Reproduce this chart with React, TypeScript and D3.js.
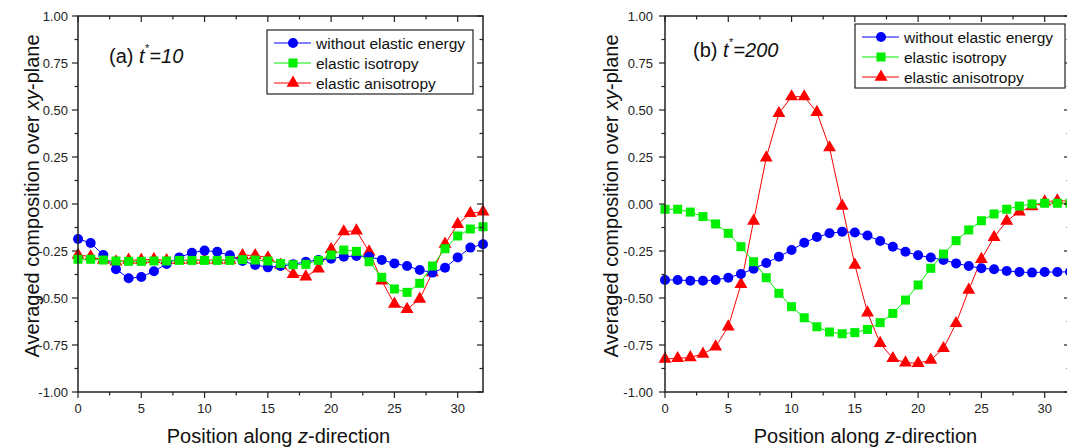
import React from "react";
import * as d3 from "d3";

const positions = d3.range(0, 33);

const aWithout = [-0.186, -0.207, -0.271, -0.347, -0.395, -0.388, -0.358, -0.319, -0.284, -0.259, -0.248, -0.254, -0.273, -0.303, -0.324, -0.337, -0.33, -0.321, -0.307, -0.298, -0.291, -0.28, -0.277, -0.28, -0.298, -0.316, -0.33, -0.351, -0.365, -0.339, -0.284, -0.232, -0.214];
const aIso = [-0.294, -0.294, -0.298, -0.303, -0.305, -0.305, -0.303, -0.303, -0.3, -0.3, -0.3, -0.3, -0.3, -0.296, -0.298, -0.303, -0.316, -0.323, -0.321, -0.3, -0.271, -0.245, -0.252, -0.307, -0.39, -0.452, -0.47, -0.422, -0.33, -0.238, -0.17, -0.133, -0.121];
const aAniso = [-0.271, -0.28, -0.298, -0.307, -0.298, -0.298, -0.294, -0.3, -0.3, -0.298, -0.298, -0.298, -0.298, -0.273, -0.273, -0.285, -0.324, -0.374, -0.387, -0.344, -0.241, -0.147, -0.142, -0.254, -0.408, -0.532, -0.56, -0.505, -0.365, -0.213, -0.108, -0.05, -0.041];

const bWithout = [-0.404, -0.404, -0.408, -0.408, -0.404, -0.392, -0.372, -0.344, -0.314, -0.28, -0.245, -0.206, -0.176, -0.156, -0.147, -0.152, -0.168, -0.197, -0.227, -0.254, -0.273, -0.285, -0.298, -0.316, -0.33, -0.342, -0.347, -0.356, -0.362, -0.365, -0.362, -0.362, -0.36];
const bIso = [-0.028, -0.028, -0.043, -0.067, -0.106, -0.156, -0.227, -0.307, -0.392, -0.475, -0.546, -0.605, -0.653, -0.681, -0.69, -0.684, -0.667, -0.631, -0.582, -0.511, -0.431, -0.342, -0.266, -0.195, -0.138, -0.089, -0.053, -0.028, -0.011, 0.0, 0.004, 0.004, 0.004];
const bAniso = [-0.824, -0.821, -0.816, -0.798, -0.759, -0.653, -0.427, -0.09, 0.246, 0.482, 0.571, 0.571, 0.488, 0.3, -0.011, -0.324, -0.578, -0.741, -0.821, -0.844, -0.847, -0.83, -0.768, -0.635, -0.457, -0.294, -0.177, -0.09, -0.041, -0.014, 0.012, 0.018, 0.015];

const seriesNames = ["without elastic energy", "elastic isotropy", "elastic anisotropy"];
const seriesColors = ["#0000ff", "#00ee00", "#ff0000"];
const seriesShapes = ["circle", "square", "triangle"];
const xMajorTicks = [0, 5, 10, 15, 20, 25, 30];
const yMajorTicks = [1, 0.75, 0.5, 0.25, 0, -0.25, -0.5, -0.75, -1];

const FONT = "Liberation Sans, Arial, sans-serif";
const AXIS = "#222";

type PanelProps = {
  left: number;
  label: string;
  time: string;
  data: number[][];
  legendX: number;
  legendY: number;
  legendW: number;
  annX: number;
  annY: number;
  yTitleX: number;
  tickLabelGap: number;
};

function Marker({ shape, x, y, color }: { shape: string; x: number; y: number; color: string }) {
  if (shape === "circle") return <circle cx={x} cy={y} r={5} fill={color} />;
  if (shape === "square") return <rect x={x - 4.5} y={y - 4.5} width={9} height={9} fill={color} />;
  const p = d3.symbol().type(d3.symbolTriangle).size(72)();
  return <path d={p || ""} transform={`translate(${x},${y})`} fill={color} />;
}

function Panel(props: PanelProps) {
  const { left, data } = props;
  const top = 16;
  const bottom = 392;
  const width = 405;
  const x = d3.scaleLinear().domain([0, 32]).range([left, left + width]);
  const y = d3.scaleLinear().domain([-1, 1]).range([bottom, top]);
  const xMinor = d3.range(0, 32.01, 2.5);
  const yMinor = d3.range(-1, 1.001, 0.125);
  const drawOrder = [2, 0, 1];
  const right = left + width;
  return (
    <g>
      {drawOrder.map((si) => {
        const pts = positions.map((p, i) => [p, data[si][i]] as [number, number]);
        const line = d3.line<[number, number]>().x((d) => x(d[0])).y((d) => y(d[1]));
        return (
          <g key={si}>
            <path d={line(pts) || ""} fill="none" stroke={seriesColors[si]} strokeWidth={1} />
            {pts.map((d, i) => (
              <Marker key={i} shape={seriesShapes[si]} x={x(d[0])} y={y(d[1])} color={seriesColors[si]} />
            ))}
          </g>
        );
      })}
      <rect x={left} y={top} width={width} height={bottom - top} fill="none" stroke={AXIS} strokeWidth={1.5} />
      {xMinor.map((t) => {
        const major = Math.abs(t % 5) < 1e-6;
        const L = major ? 6 : 3.5;
        return (
          <g key={"x" + t}>
            <line x1={x(t)} x2={x(t)} y1={bottom} y2={bottom + L} stroke={AXIS} strokeWidth={1.2} />
            <line x1={x(t)} x2={x(t)} y1={top} y2={top + L} stroke={AXIS} strokeWidth={1.2} />
          </g>
        );
      })}
      {yMinor.map((t) => {
        const major = Math.abs((t * 4) % 1) < 1e-6;
        const L = major ? 6 : 3.5;
        return (
          <g key={"y" + t}>
            <line x1={left} x2={left - L} y1={y(t)} y2={y(t)} stroke={AXIS} strokeWidth={1.2} />
            <line x1={right} x2={right - L} y1={y(t)} y2={y(t)} stroke={AXIS} strokeWidth={1.2} />
          </g>
        );
      })}
      {xMajorTicks.map((t) => (
        <text key={"xl" + t} x={x(t)} y={413} fontSize={13} fontFamily={FONT} textAnchor="middle" fill="#222">
          {t}
        </text>
      ))}
      {yMajorTicks.map((t) => (
        <text key={"yl" + t} x={left - props.tickLabelGap} y={y(t) + 4.5} fontSize={13} fontFamily={FONT} textAnchor="end" fill="#222">
          {t.toFixed(2)}
        </text>
      ))}
      <text x={left + width / 2 - 2} y={443} fontSize={20} fontFamily={FONT} textAnchor="middle" fill="#111">
        Position along <tspan fontStyle="italic">z</tspan>-direction
      </text>
      <text
        transform={`translate(${props.yTitleX},${(top + bottom) / 2 - 8}) rotate(-90)`}
        fontSize={20}
        fontFamily={FONT}
        textAnchor="middle"
        fill="#111"
      >
        Averaged composition over <tspan fontStyle="italic">xy</tspan>-plane
      </text>
      <text x={props.annX} y={props.annY} fontSize={20} fontFamily={FONT} fill="#111">
        {props.label + " "}
        <tspan fontStyle="italic">t</tspan>
        <tspan fontSize={11} dy={-11} dx={0.5}>*</tspan>
        <tspan fontStyle="italic" dy={11}>{"=" + props.time}</tspan>
      </text>
      <g>
        <rect x={props.legendX} y={props.legendY} width={props.legendW} height={64} fill="#fff" stroke={AXIS} strokeWidth={1.2} />
        {seriesNames.map((name, i) => {
          const ly = props.legendY + 13 + i * 20;
          const lx = props.legendX;
          return (
            <g key={name}>
              <line x1={lx + 7} x2={lx + 44} y1={ly} y2={ly} stroke={seriesColors[i]} strokeWidth={1} />
              <Marker shape={seriesShapes[i]} x={lx + 26} y={ly} color={seriesColors[i]} />
              <text x={lx + 49} y={ly + 5.5} fontSize={15.5} fontFamily={FONT} fill="#111">
                {name}
              </text>
            </g>
          );
        })}
      </g>
    </g>
  );
}

export default function App() {
  return (
    <svg width={1067} height={448} style={{ position: "absolute", left: 0, top: 0, background: "#fff" }}>
      <rect x={0} y={0} width={1067} height={448} fill="#fff" />
      <Panel
        left={78}
        label="(a)"
        time="10"
        data={[aWithout, aIso, aAniso]}
        legendX={267}
        legendY={30}
        legendW={206}
        annX={109}
        annY={63}
        yTitleX={39}
        tickLabelGap={10}
      />
      <Panel
        left={665}
        label="(b)"
        time="200"
        data={[bWithout, bIso, bAniso]}
        legendX={855}
        legendY={24}
        legendW={210}
        annX={693}
        annY={57}
        yTitleX={618}
        tickLabelGap={12}
      />
    </svg>
  );
}
